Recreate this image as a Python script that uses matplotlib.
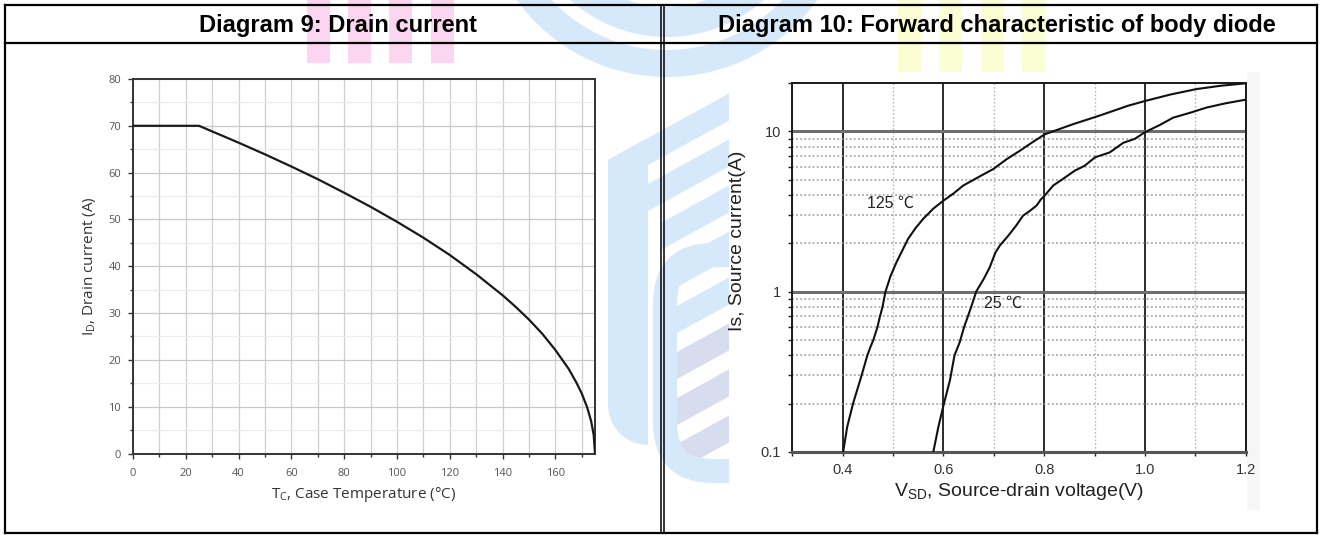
import matplotlib
matplotlib.use('Agg')
import matplotlib.pyplot as plt
from matplotlib.patches import Rectangle, Wedge, Polygon, FancyBboxPatch
from matplotlib.lines import Line2D
from matplotlib.transforms import Affine2D
from matplotlib.ticker import MultipleLocator, FixedLocator, FixedFormatter, LogLocator, NullFormatter
import numpy as np

W, H = 1320, 535

# Diagram 9: drain current vs case temperature
case_temp = [0, 25, 30, 40, 50, 60, 70, 80, 90, 100, 110, 120, 130, 140, 145,
             150, 155, 160, 165, 168, 170, 172, 173.5, 174.5, 175]
drain_current = [70, 70, 68.8, 66.4, 63.9, 61.3, 58.6, 55.7, 52.7, 49.5, 46.1, 42.4, 38.3, 33.8, 31.3,
                 28.6, 25.6, 22.1, 18.1, 15.1, 12.8, 9.9, 7.0, 4.0, 0]
temp_ticks = [0, 20, 40, 60, 80, 100, 120, 140, 160]
current_ticks = [0, 10, 20, 30, 40, 50, 60, 70, 80]

# Diagram 10: body diode forward characteristic
vsd_125 = [0.401, 0.409, 0.415, 0.421, 0.430, 0.438, 0.449, 0.455, 0.461, 0.469, 0.474, 0.479,
           0.485, 0.495, 0.507, 0.530, 0.545, 0.560, 0.580, 0.600, 0.620, 0.639, 0.670, 0.699,
           0.725, 0.752, 0.775, 0.801, 0.857, 0.911, 0.967, 1.0, 1.05, 1.102, 1.15, 1.2]
is_125 = [0.1, 0.143, 0.17, 0.202, 0.25, 0.303, 0.40, 0.45, 0.50, 0.60, 0.70, 0.80,
          1.0, 1.25, 1.53, 2.14, 2.5, 2.85, 3.3, 3.70, 4.1, 4.59, 5.2, 5.83,
          6.7, 7.59, 8.5, 9.6, 11.1, 12.6, 14.5, 15.5, 17.0, 18.4, 19.3, 20.0]
vsd_25 = [0.580, 0.590, 0.601, 0.613, 0.622, 0.632, 0.641, 0.655, 0.665, 0.680, 0.692, 0.703,
          0.712, 0.729, 0.745, 0.758, 0.772, 0.785, 0.793, 0.801, 0.818, 0.837, 0.861, 0.880,
          0.901, 0.930, 0.957, 0.980, 1.0, 1.03, 1.056, 1.09, 1.122, 1.16, 1.2]
is_25 = [0.1, 0.143, 0.2, 0.28, 0.40, 0.48, 0.6, 0.8, 1.0, 1.2, 1.42, 1.75,
         1.94, 2.24, 2.6, 2.98, 3.2, 3.45, 3.75, 3.98, 4.6, 5.05, 5.7, 6.1,
         6.9, 7.4, 8.5, 9.0, 9.9, 11.0, 12.2, 13.1, 14.1, 15.0, 15.8]
vsd_ticks = [0.4, 0.6, 0.8, 1.0, 1.2]
vsd_labels = ['0.4', '0.6', '0.8', '1.0', '1.2']
is_ticks = [0.1, 1, 10]
is_labels = ['0.1', '1', '10']

BLUE = '#d6e9fb'
LAV = '#d8dcef'


def fx(x):
    return x / W


def fy(y):
    return 1 - y / H


def lw_px(p):
    return p * 72 / 100


fig = plt.figure(figsize=(W / 100, H / 100), dpi=100, facecolor='white')
pxt = Affine2D().scale(1 / W, -1 / H).translate(0, 1) + fig.transFigure

# --- background watermark (rough) ---
wm = []
wm.append(Wedge((667, -108), 185, 0, 180, width=27, transform=pxt, facecolor=BLUE, edgecolor='none'))
wm.append(Wedge((667, -108), 145, 0, 180, width=30, transform=pxt, facecolor=BLUE, edgecolor='none'))
for k in range(8):
    top = 160 + 46 * k
    x0 = 608 if k < 2 else (662 if k < 5 else 677)
    col = BLUE if k < 5 else LAV
    y0 = top - 0.55 * (x0 - 608)
    wm.append(Polygon([(x0, y0), (729, top - 0.55 * 121), (729, top - 0.55 * 121 + 27), (x0, y0 + 27)],
                      closed=True, transform=pxt, facecolor=col, edgecolor='none'))
arc = [(648 + 40 * np.cos(t), 405 + 40 * np.sin(t)) for t in np.linspace(np.pi / 2, np.pi, 12)]
wm.append(Polygon([(608, 160), (648, 138)] + arc, closed=True, transform=pxt,
                  facecolor=BLUE, edgecolor='none'))
wm.append(FancyBboxPatch((665, 255), 140, 216, boxstyle='round,pad=0,rounding_size=48',
                         transform=pxt, facecolor='none', edgecolor=BLUE, linewidth=lw_px(24)))
for p in wm:
    p.set_zorder(-10)
    fig.add_artist(p)

# pink / yellow bars behind the titles
for bx in [307, 348, 389, 431]:
    fig.add_artist(Rectangle((bx, 0), 23, 63, transform=pxt, facecolor='#fcd6f0',
                             edgecolor='none', zorder=-8))
for bx in [898, 939, 981, 1022]:
    fig.add_artist(Rectangle((bx, 0), 23, 72, transform=pxt, facecolor='#fbfdd2',
                             edgecolor='none', zorder=-8))

# chart image backgrounds
fig.add_artist(Rectangle((62, 63), 535, 449, transform=pxt, facecolor='white',
                         edgecolor='none', zorder=-5))
fig.add_artist(Rectangle((729, 72), 531, 438, transform=pxt, facecolor='white',
                         edgecolor='none', zorder=-5))
fig.add_artist(Rectangle((1247, 72), 13, 438, transform=pxt, facecolor='#f6f6f6',
                         edgecolor='none', zorder=-4))

# --- Diagram 9 ---
ax1 = fig.add_axes([fx(133), fy(453.5), (595 - 133) / W, (453.5 - 79) / H])
ax1.plot(case_temp, drain_current, color='#1a1a1a', lw=1.6, zorder=3)
ax1.set_xlim(0, 175)
ax1.set_ylim(0, 80)
ax1.set_xticks(temp_ticks)
ax1.set_yticks(current_ticks)
ax1.xaxis.set_minor_locator(MultipleLocator(10))
ax1.yaxis.set_minor_locator(MultipleLocator(5))
ax1.xaxis.grid(True, which='both', color='#cfcfcf', lw=0.9)
ax1.yaxis.grid(True, which='major', color='#c8c8c8', lw=0.9)
ax1.yaxis.grid(True, which='minor', color='#ececec', lw=0.8)
ax1.set_axisbelow(True)
for s in ax1.spines.values():
    s.set_color('#333333')
    s.set_linewidth(1.4)
ax1.tick_params(which='major', direction='out', length=3.5, width=1, color='#333333',
                labelsize=8, labelcolor='#555555', pad=5)
ax1.tick_params(axis='x', which='major', pad=7)
ax1.tick_params(which='minor', direction='out', length=2.5, width=1, color='#333333')
for lab in ax1.get_xticklabels() + ax1.get_yticklabels():
    lab.set_family('Open Sans')

fig.text(fx(364), fy(495), r'$\mathregular{T_C}$, Case Temperature (°C)', ha='center', va='center',
         fontsize=11, color='#333333', family='Open Sans')
fig.text(fx(90), fy(266), r'$\mathregular{I_D}$, Drain current (A)', ha='center', va='center',
         rotation=90, fontsize=11, color='#333333', family='Open Sans')

# --- Diagram 10 ---
ax2 = fig.add_axes([fx(792.3), fy(451.7), (1245.7 - 792.3) / W, (451.7 - 83.3) / H])
ax2.set_yscale('log')
ax2.plot(vsd_125, is_125, color='#111111', lw=1.5, zorder=3)
ax2.plot(vsd_25, is_25, color='#111111', lw=1.5, zorder=3)
ax2.set_xlim(0.3, 1.2)
ax2.set_ylim(0.1, 20)
ax2.xaxis.set_major_locator(FixedLocator(vsd_ticks))
ax2.xaxis.set_major_formatter(FixedFormatter(vsd_labels))
ax2.xaxis.set_minor_locator(MultipleLocator(0.1))
ax2.yaxis.set_major_locator(FixedLocator(is_ticks))
ax2.yaxis.set_major_formatter(FixedFormatter(is_labels))
ax2.yaxis.set_minor_locator(LogLocator(base=10, subs=range(2, 10)))
ax2.yaxis.set_minor_formatter(NullFormatter())
ax2.xaxis.grid(True, which='major', color='#1a1a1a', lw=1.3)
ax2.xaxis.grid(True, which='minor', color='#b8b8b8', lw=1.0, ls=(0, (1.2, 1.5)))
ax2.yaxis.grid(True, which='major', color='#6e6e6e', lw=2.2)
ax2.yaxis.grid(True, which='minor', color='#9c9c9c', lw=1.1, ls=(0, (1.2, 1.5)))
ax2.set_axisbelow(True)
for s in ax2.spines.values():
    s.set_color('#1a1a1a')
    s.set_linewidth(1.4)
ax2.spines['bottom'].set_color('#555555')
ax2.spines['bottom'].set_linewidth(2.2)
ax2.tick_params(which='major', direction='out', length=3, width=1, color='#222222',
                labelsize=10.5, labelcolor='#333333', pad=5)
ax2.tick_params(which='minor', direction='out', length=3, width=1, color='#222222')
for lab in ax2.get_xticklabels() + ax2.get_yticklabels():
    lab.set_family('Liberation Sans')

ax2.text(0.494, 3.55, '125 ℃', ha='center', va='center', fontsize=11.5, color='#222222',
         family=['Liberation Sans', 'Noto Sans CJK SC'])
ax2.text(0.718, 0.84, '25 ℃', ha='center', va='center', fontsize=11.5, color='#222222',
         family=['Liberation Sans', 'Noto Sans CJK SC'])

fig.text(fx(1019), fy(492), r'$\mathregular{V_{SD}}$, Source-drain voltage(V)', ha='center', va='center',
         fontsize=14, color='#222222', family='Liberation Sans')
fig.text(fx(738), fy(241), 'Is, Source current(A)', ha='center', va='center', rotation=90,
         fontsize=14, color='#222222', family='Liberation Sans')

# --- table frame and titles ---
frame = [((5, 1317), (4.7, 4.7)), ((5, 1317), (43.3, 43.3)), ((5, 1317), (532.5, 532.5)),
         ((5, 5), (4.7, 532.5)), ((1317, 1317), (4.7, 532.5))]
for xs, ys in frame:
    fig.add_artist(Line2D(xs, ys, transform=pxt, color='black', lw=1.6, zorder=10))
for xv in (660.5, 663.5):
    fig.add_artist(Line2D((xv, xv), (4.7, 532.5), transform=pxt, color='black', lw=1.1, zorder=10))

fig.text(fx(338), fy(25.5), 'Diagram 9: Drain current', ha='center', va='center',
         fontsize=17, fontweight='bold', family='Liberation Sans', zorder=11)
fig.text(fx(996.5), fy(25.5), 'Diagram 10: Forward characteristic of body diode', ha='center', va='center',
         fontsize=17, fontweight='bold', family='Liberation Sans', zorder=11)

fig.savefig('out.png', dpi=100, facecolor='white')
